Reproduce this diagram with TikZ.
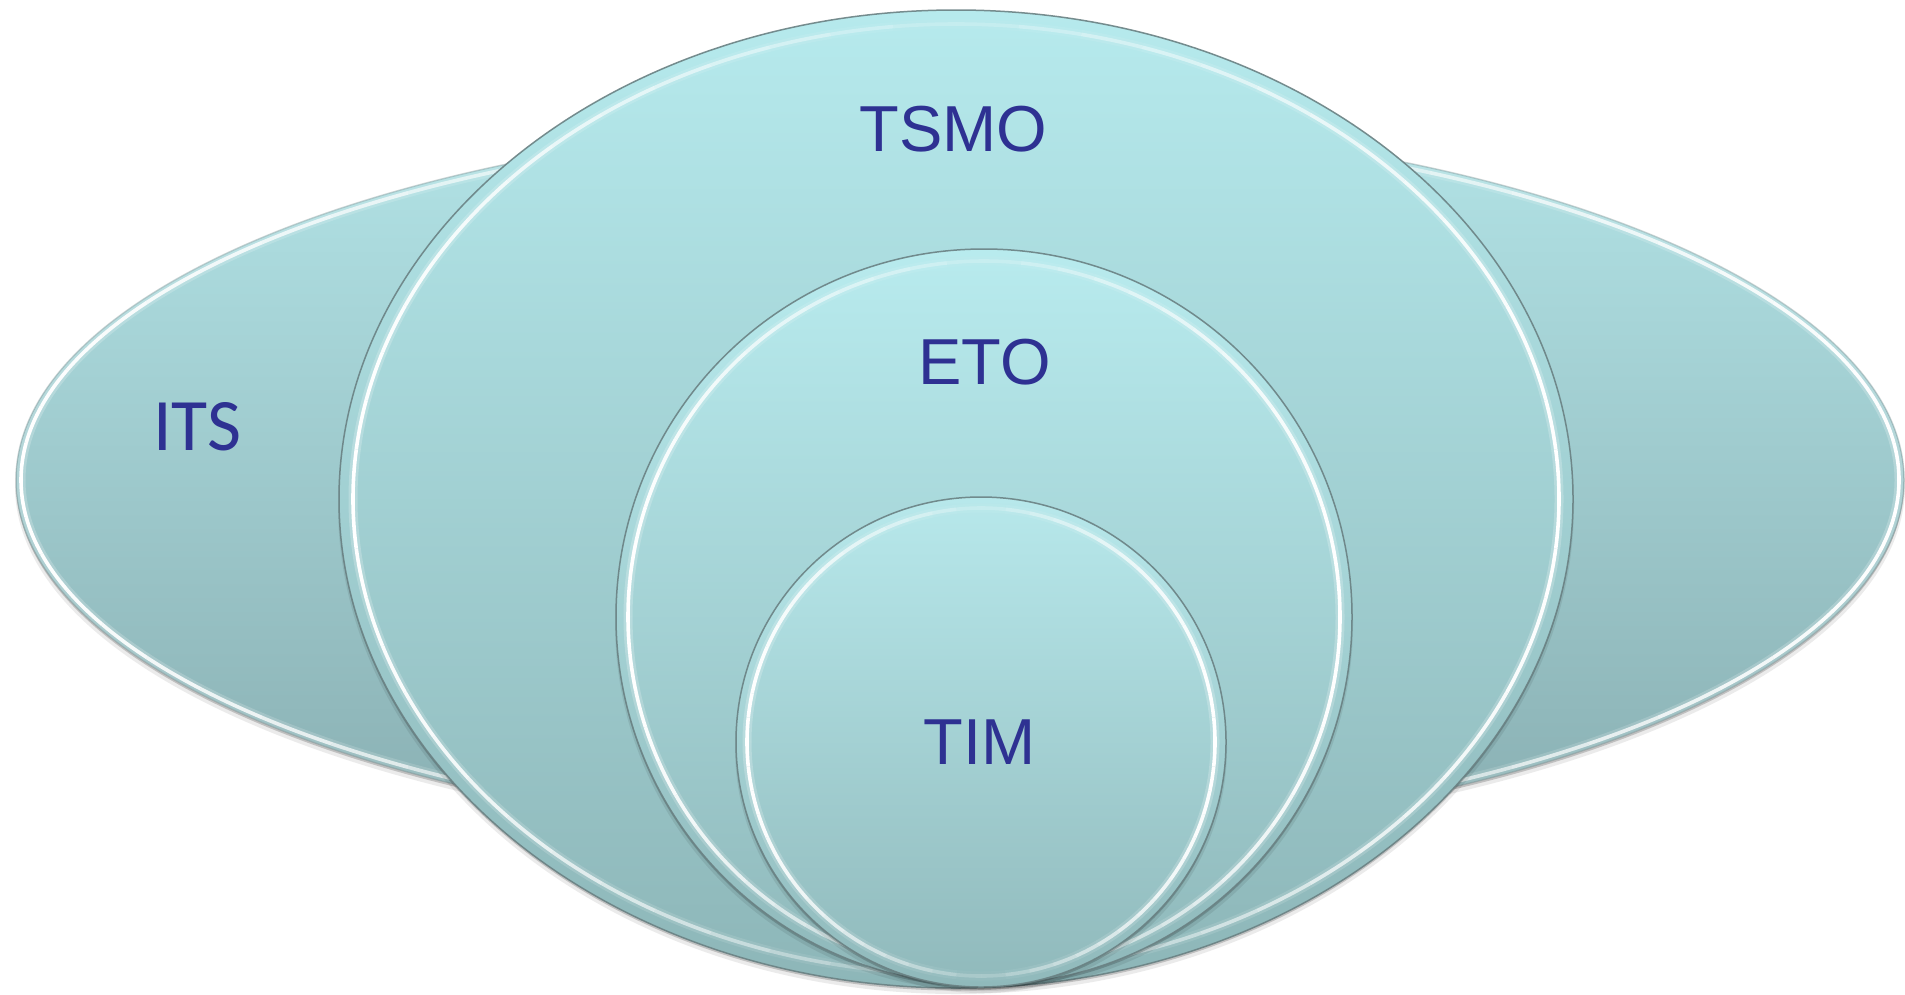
\documentclass[tikz,border=0pt]{standalone}
\usepackage{fontspec}
\setmainfont{Liberation Sans}
\newfontfamily\itsfont{Carlito}
\definecolor{txt}{HTML}{2E3192}
\definecolor{edgegray}{HTML}{6A8183}
\definecolor{itstop}{HTML}{B2E3E6}
\definecolor{itsbot}{HTML}{89AFB2}
\definecolor{tsmotop}{HTML}{B6EAED}
\definecolor{tsmobot}{HTML}{8DB6B8}
\definecolor{etotop}{HTML}{B8EBEE}
\definecolor{etobot}{HTML}{8FB8BA}
\definecolor{timtop}{HTML}{B7E8EB}
\definecolor{timbot}{HTML}{90B9BB}
\newcommand\bevelring[4]{%
  \pgfmathsetmacro\brx{#3}\pgfmathsetmacro\bry{#4}%
  \foreach \a in {0,6,...,354}{%
    \pgfmathsetmacro\op{0.15+0.85*abs(cos(\a+3))}%
    \draw[white,line width=9pt,opacity=0.22*\op] ({#1+\brx*cos(\a)},{#2+\bry*sin(\a)}) arc[start angle=\a,end angle=\a+6,x radius=\brx,y radius=\bry];
    \draw[white,line width=3.6pt,opacity=\op] ({#1+\brx*cos(\a)},{#2+\bry*sin(\a)}) arc[start angle=\a,end angle=\a+6,x radius=\brx,y radius=\bry];
  }}
\newcommand\vennshape[8]{%
  \fill[black,opacity=.08] (#1,#2+6) ellipse[x radius=#3+1,y radius=#4];
  \fill[black,opacity=.18] (#1,#2+2.5) ellipse[x radius=#3,y radius=#4];
  \shade[top color=#6,bottom color=#7] (#1,#2) ellipse[x radius=#3,y radius=#4];
  \draw[draw=edgegray,line width=1.5pt,draw opacity=#8] (#1,#2) ellipse[x radius=#3,y radius=#4];
  \bevelring{#1}{#2}{#3-#5}{#4-#5}%
}
\begin{document}
\begin{tikzpicture}[x=1pt,y=-1pt,
  lbl/.style={text=txt,inner sep=0pt,anchor=base,font=\fontsize{65}{78}\selectfont}]
\useasboundingbox (0,0) rectangle (1905,994);
\fill[white] (0,0) rectangle (1905,994);
% ITS
\vennshape{960}{480}{944}{360}{5}{itstop}{itsbot}{0.35}
% TSMO
\vennshape{956}{499}{617}{489}{14}{tsmotop}{tsmobot}{0.9}
% ETO
\vennshape{984}{617}{368}{368}{12}{etotop}{etobot}{0.9}
% TIM
\vennshape{981}{742}{245}{245}{11}{timtop}{timbot}{0.9}
\node[lbl,font=\itsfont\fontsize{74}{88}\selectfont] (its) at (197.5,450) {ITS};
\node[lbl] (tsmo) at (953.5,151) {TSMO};
\node[lbl] (eto) at (984.5,384) {ETO};
\node[lbl] (tim) at (979.5,764) {TIM};
\end{tikzpicture}
\end{document}
